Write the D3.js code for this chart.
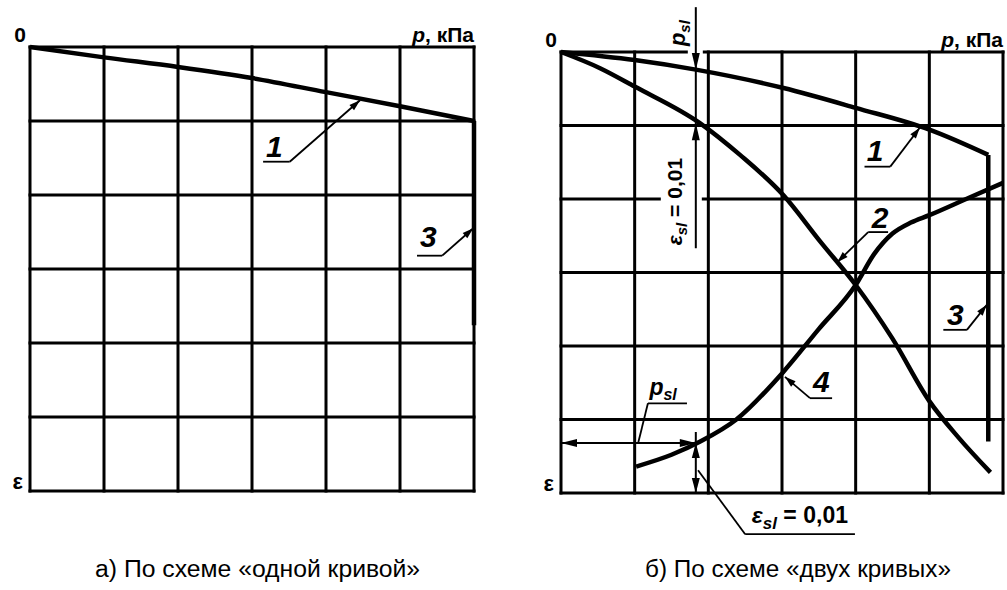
<!DOCTYPE html>
<html>
<head>
<meta charset="utf-8">
<script src="https://cdn.jsdelivr.net/npm/d3@7"></script>
<style>
body { margin: 0; background: #fff; }
text { font-family: "Liberation Sans", Arial, sans-serif; font-weight: bold; fill: #000; }
</style>
</head>
<body>
<div id="chart"></div>
<script>
const W = 1007, H = 590;
const gridTicks = [0, 1, 2, 3, 4, 5, 6];

// a) one curve: 1 - compression curve, 3 - soaking at final load
const pA1 = [0, 1, 2, 3, 4, 5, 6];
const epsA1 = [0, 0.14, 0.27, 0.42, 0.61, 0.80, 1.0];
const pA3 = [6, 6];
const epsA3 = [1.0, 3.76];

// b) two curves
const pB1 = [0, 1, 1.83, 3.02, 4.0, 5.01, 5.8];
const epsB1 = [0, 0.11, 0.24, 0.49, 0.76, 1.06, 1.40];
const pB3 = [5.8, 5.8];
const epsB3 = [1.40, 5.3];
const pB2 = [0, 0.53, 1.0, 1.89, 2.43, 3.02, 3.52, 4.0, 4.5, 5.0, 5.4, 5.83];
const epsB2 = [0, 0.22, 0.47, 0.97, 1.40, 1.95, 2.58, 3.17, 3.9, 4.75, 5.25, 5.72];
const pB4 = [1.02, 1.5, 1.89, 2.38, 3.02, 3.49, 4.0, 4.25, 4.5, 4.75, 5.0, 5.5, 6.0];
const epsB4 = [5.64, 5.48, 5.30, 5.0, 4.35, 3.78, 3.17, 2.75, 2.47, 2.32, 2.22, 2.0, 1.78];

// initial subsidence pressure and the points it is read from
const pSl = 1.83;
const epsSlOn1 = 0.245, epsSlOn2 = 0.97, epsSlOn4 = 5.32;

const captions = ["а) По схеме «одной кривой»", "б) По схеме «двух кривых»"];

const svg = d3.select("#chart").append("svg")
    .attr("width", W)
    .attr("height", H);

const xA = d3.scaleLinear().domain([0, 6]).range([30, 474]);
const yA = d3.scaleLinear().domain([0, 6]).range([47, 491]);
const xB = d3.scaleLinear().domain([0, 6]).range([561, 1003]);
const yB = d3.scaleLinear().domain([0, 6]).range([52, 493]);

function drawGrid(g, x, y) {
    g.selectAll(".vl").data(gridTicks).enter().append("line")
        .attr("x1", d => x(d)).attr("x2", d => x(d))
        .attr("y1", y(0)).attr("y2", y(6))
        .attr("stroke", "#000").attr("stroke-width", 3)
        .attr("stroke-linecap", "square");
    g.selectAll(".hl").data(gridTicks).enter().append("line")
        .attr("y1", d => y(d)).attr("y2", d => y(d))
        .attr("x1", x(0)).attr("x2", x(6))
        .attr("stroke", "#000").attr("stroke-width", 3)
        .attr("stroke-linecap", "square");
}

function drawAxisLabels(g, x, y) {
    g.append("text").attr("x", x(0) - 4).attr("y", y(0) - 5)
        .attr("text-anchor", "end").style("font-size", "21px").text("0");
    const t = g.append("text").attr("x", x(6)).attr("y", y(0) - 5)
        .attr("text-anchor", "end").style("font-size", "21px");
    t.append("tspan").style("font-style", "italic").text("p");
    t.append("tspan").text(", кПа");
    g.append("text").attr("x", x(0) - 7).attr("y", y(6) - 2)
        .attr("text-anchor", "end").style("font-size", "22px").text("ε");
}

function drawCurve(g, x, y, ps, es, w, smooth) {
    const line = d3.line()
        .x(d => x(d[0]))
        .y(d => y(d[1]))
        .curve(smooth ? d3.curveMonotoneX : d3.curveLinear);
    g.append("path")
        .attr("d", line(d3.zip(ps, es)))
        .attr("fill", "none")
        .attr("stroke", "#000")
        .attr("stroke-width", w)
        .attr("stroke-linejoin", "round");
}

function head(g, x1, y1, x2, y2, len, half) {
    var a = Math.atan2(y2 - y1, x2 - x1);
    var bx = x2 - len * Math.cos(a), by = y2 - len * Math.sin(a);
    var pts = [[x2, y2],
        [bx + half * Math.sin(a), by - half * Math.cos(a)],
        [bx - half * Math.sin(a), by + half * Math.cos(a)]];
    g.append("path").attr("d", "M" + pts.join("L") + "Z").attr("fill", "#000");
}

function seg(g, x1, y1, x2, y2, w) {
    g.append("line").attr("x1", x1).attr("y1", y1).attr("x2", x2).attr("y2", y2)
        .attr("stroke", "#000").attr("stroke-width", w);
}

// numbered leader: text, underline, line to an arrow tip
function callout(g, x, y, c) {
    g.append("text").attr("x", x(c.tx)).attr("y", y(c.ty))
        .style("font-size", "30px").style("font-style", "italic").text(c.t);
    seg(g, x(c.u0), y(c.uy), x(c.u1), y(c.uy), 1.8);
    var sx = c.fromLeft ? x(c.u0) : x(c.u1);
    seg(g, sx, y(c.uy), x(c.ax), y(c.ay), 1.8);
    head(g, sx, y(c.uy), x(c.ax), y(c.ay), 11, 3.5);
}

const calloutsA = [
    { t: "1", tx: 3.19, ty: 1.49, u0: 3.15, u1: 3.51, uy: 1.55, ax: 4.46, ay: 0.72 },
    { t: "3", tx: 5.27, ty: 2.70, u0: 5.23, u1: 5.57, uy: 2.82, ax: 5.99, ay: 2.45 }
];
const calloutsB = [
    { t: "1", tx: 4.15, ty: 1.48, u0: 4.12, u1: 4.47, uy: 1.56, ax: 4.87, ay: 1.03 },
    { t: "2", tx: 4.22, ty: 2.39, u0: 4.17, u1: 4.44, uy: 2.45, ax: 3.75, ay: 2.86, fromLeft: true },
    { t: "3", tx: 5.24, ty: 3.71, u0: 5.19, u1: 5.51, uy: 3.78, ax: 5.78, ay: 3.44 },
    { t: "4", tx: 3.42, ty: 4.63, u0: 3.38, u1: 3.68, uy: 4.71, ax: 3.04, ay: 4.42, fromLeft: true }
];

// ---- panel a
const gA = svg.append("g");
drawGrid(gA, xA, yA);
drawCurve(gA, xA, yA, pA1, epsA1, 4.5, true);
drawCurve(gA, xA, yA, pA3, epsA3, 4.5, false);
drawAxisLabels(gA, xA, yA);
calloutsA.forEach(c => callout(gA, xA, yA, c));

// ---- panel b
const gB = svg.append("g");
drawGrid(gB, xB, yB);

// breaks in grid around the p_sl dimension
gB.append("rect").attr("x", xB(pSl) - 8).attr("y", yB(0) - 4).attr("width", 15).attr("height", 8).attr("fill", "#fff");
gB.append("rect").attr("x", xB(pSl) - 35).attr("y", yB(1.2)).attr("width", 41).attr("height", yB(2.65) - yB(1.2)).attr("fill", "#fff");

drawCurve(gB, xB, yB, pB1, epsB1, 4.5, true);
drawCurve(gB, xB, yB, pB3, epsB3, 4.5, false);
drawCurve(gB, xB, yB, pB2, epsB2, 4.5, true);
drawCurve(gB, xB, yB, pB4, epsB4, 4.5, true);
drawAxisLabels(gB, xB, yB);
calloutsB.forEach(c => callout(gB, xB, yB, c));

// top vertical dimension at p_sl
var xs = xB(pSl);
seg(gB, xs, yB(-0.61), xs, yB(2.67), 2);
head(gB, xs, yB(-0.3), xs, yB(epsSlOn1), 17, 4);
head(gB, xs, yB(1.6), xs, yB(epsSlOn2), 17, 4);

var tPs = gB.append("text")
    .attr("transform", "translate(" + (xs - 11) + "," + yB(-0.08) + ") rotate(-90)")
    .style("font-size", "22px").style("font-style", "italic");
tPs.append("tspan").text("p");
tPs.append("tspan").attr("dy", 5).style("font-size", "15px").text("sl");

var tEs = gB.append("text")
    .attr("transform", "translate(" + (xs - 14) + "," + yB(2.63) + ") rotate(-90)")
    .style("font-size", "21px");
tEs.append("tspan").style("font-style", "italic").text("ε");
tEs.append("tspan").attr("dy", 5).style("font-size", "15px").style("font-style", "italic").text("sl");
tEs.append("tspan").attr("dy", -5).text(" = 0,01");

// bottom horizontal dimension p_sl
seg(gB, xB(0), yB(epsSlOn4), xs, yB(epsSlOn4), 2);
head(gB, xB(1), yB(epsSlOn4), xB(0), yB(epsSlOn4), 16, 4);
head(gB, xB(1), yB(epsSlOn4), xs, yB(epsSlOn4), 16, 4);

// bottom vertical dimension eps_sl
seg(gB, xs, yB(5.17), xs, yB(6), 2);
head(gB, xs, yB(5.75), xs, yB(epsSlOn4), 15, 4);
head(gB, xs, yB(5.6), xs, yB(6), 15, 4);

// p_sl label with leader
var tP2 = gB.append("text").attr("x", xB(1.2)).attr("y", yB(4.67))
    .style("font-size", "23px").style("font-style", "italic");
tP2.append("tspan").text("p");
tP2.append("tspan").attr("dy", 5).style("font-size", "16px").text("sl");
seg(gB, xB(1.18), yB(4.78), xB(1.71), yB(4.78), 1.8);
seg(gB, xB(1.18), yB(4.78), xB(1.05), yB(5.31), 1.8);

// eps_sl label with leader
var tE2 = gB.append("text").attr("x", xB(2.59)).attr("y", yB(6.41))
    .style("font-size", "23px");
tE2.append("tspan").style("font-style", "italic").text("ε");
tE2.append("tspan").attr("dy", 6).style("font-size", "17px").style("font-style", "italic").text("sl");
tE2.append("tspan").attr("dy", -6).text(" = 0,01");
seg(gB, xB(2.50), yB(6.56), xB(3.99), yB(6.56), 1.8);
seg(gB, xB(2.50), yB(6.56), xB(1.86), yB(5.69), 1.8);

// captions
svg.append("text").attr("x", xA(0.88)).attr("y", yA(7.16))
    .attr("textLength", 325).attr("lengthAdjust", "spacingAndGlyphs")
    .style("font-size", "23px").style("font-weight", "normal").text(captions[0]);
svg.append("text").attr("x", xB(1.14)).attr("y", yB(7.14))
    .attr("textLength", 306).attr("lengthAdjust", "spacingAndGlyphs")
    .style("font-size", "23px").style("font-weight", "normal").text(captions[1]);
</script>
</body>
</html>
